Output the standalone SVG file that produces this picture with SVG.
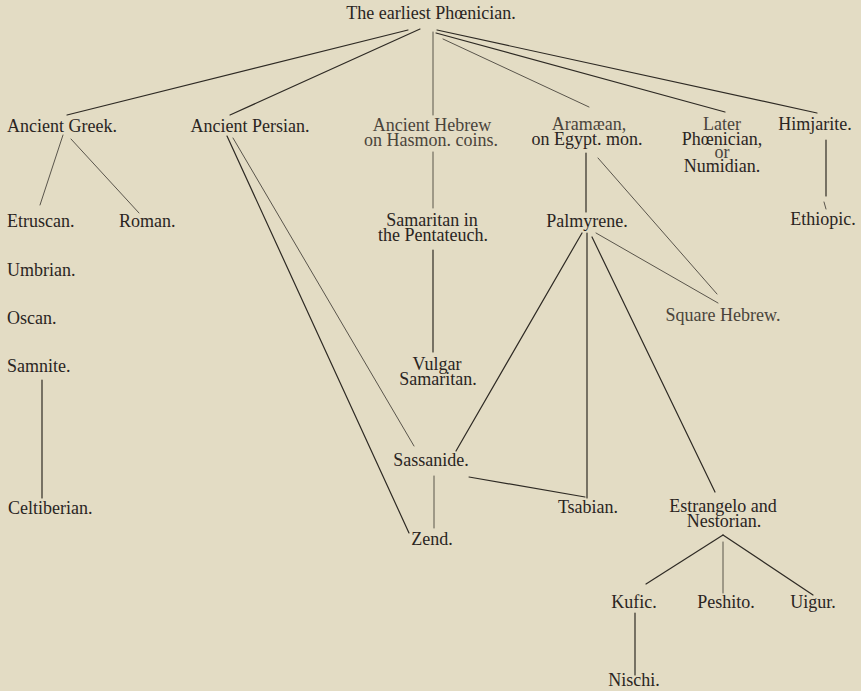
<svg xmlns="http://www.w3.org/2000/svg" width="861" height="691" viewBox="0 0 861 691">
<style>
text{font-family:"Liberation Serif","DejaVu Serif",serif;font-size:18px;fill:#2a251f}
.m{text-anchor:middle}
.l{fill:#4a443b}
#connectors line{stroke:#2e2a24;stroke-width:1.2;fill:none;stroke-linecap:round}
#connectors line.t{stroke-width:0.9;stroke:#4a453d}
</style>
<rect width="861" height="691" fill="#e3dcc4"/>
<g id="connectors">
<line x1="408" y1="30" x2="67" y2="115"/>
<line x1="420" y1="29" x2="230" y2="115"/>
<line x1="433" y1="32" x2="433" y2="115" class="t"/>
<line x1="443" y1="39" x2="589" y2="107" class="t"/>
<line x1="436" y1="33" x2="725" y2="112"/>
<line x1="437" y1="30" x2="817" y2="113"/>
<line x1="63" y1="135" x2="40" y2="205" class="t"/>
<line x1="71" y1="139" x2="139" y2="213" class="t"/>
<line x1="227" y1="136" x2="409" y2="533"/>
<line x1="233" y1="138" x2="414" y2="446" class="t"/>
<line x1="433" y1="152" x2="433" y2="208" class="t"/>
<line x1="433" y1="250" x2="433" y2="352"/>
<line x1="586" y1="153" x2="586" y2="212"/>
<line x1="598" y1="158" x2="717" y2="294" class="t"/>
<line x1="826" y1="140" x2="826" y2="196"/>
<line x1="824" y1="202" x2="826" y2="209" class="t"/>
<line x1="596" y1="233" x2="718" y2="303" class="t"/>
<line x1="582" y1="233" x2="456" y2="451"/>
<line x1="587" y1="233" x2="587" y2="498"/>
<line x1="592" y1="237" x2="715" y2="492"/>
<line x1="469" y1="477" x2="585" y2="497"/>
<line x1="434" y1="476" x2="434" y2="528" class="t"/>
<line x1="42" y1="380" x2="42" y2="498"/>
<line x1="723" y1="535" x2="646" y2="584"/>
<line x1="723" y1="535" x2="813" y2="595"/>
<line x1="723" y1="542" x2="723" y2="593" class="t"/>
<line x1="635" y1="613" x2="635" y2="675"/>
</g>
<g id="root"><text class="m" x="431" y="19">The earliest Phœnician.</text></g>
<g id="ancient-greek"><text x="7" y="132">Ancient Greek.</text></g>
<g id="ancient-persian"><text class="m" x="250" y="132">Ancient Persian.</text></g>
<g id="ancient-hebrew"><text class="m l" x="432" y="131">Ancient Hebrew</text><text class="m l" x="431" y="146">on Hasmon. coins.</text></g>
<g id="aramaean"><text class="m l" x="589" y="130">Aramæan,</text><text class="m" x="587" y="145">on Egypt. mon.</text></g>
<g id="later-phoenician"><text class="m l" x="722" y="130">Later</text><text class="m" x="722" y="145">Phœnician,</text><text class="m l" x="722" y="158">or</text><text class="m" x="722" y="172">Numidian.</text></g>
<g id="himjarite"><text class="m" x="815" y="130">Himjarite.</text></g>
<g id="etruscan"><text x="7" y="227">Etruscan.</text></g>
<g id="roman"><text x="119" y="227">Roman.</text></g>
<g id="umbrian"><text x="7" y="276">Umbrian.</text></g>
<g id="oscan"><text x="7" y="324">Oscan.</text></g>
<g id="samnite"><text x="7" y="372">Samnite.</text></g>
<g id="celtiberian"><text x="8" y="514">Celtiberian.</text></g>
<g id="samaritan-pentateuch"><text class="m" x="432" y="226">Samaritan in</text><text class="m" x="433" y="241">the Pentateuch.</text></g>
<g id="palmyrene"><text class="m" x="587" y="227">Palmyrene.</text></g>
<g id="ethiopic"><text class="m" x="823" y="225">Ethiopic.</text></g>
<g id="square-hebrew"><text class="m l" x="723" y="321">Square Hebrew.</text></g>
<g id="vulgar-samaritan"><text class="m" x="437" y="370">Vulgar</text><text class="m" x="438" y="385">Samaritan.</text></g>
<g id="sassanide"><text class="m" x="431" y="466">Sassanide.</text></g>
<g id="zend"><text class="m" x="432" y="545">Zend.</text></g>
<g id="tsabian"><text class="m" x="588" y="513">Tsabian.</text></g>
<g id="estrangelo"><text class="m" x="723" y="512">Estrangelo and</text><text class="m" x="724" y="527">Nestorian.</text></g>
<g id="kufic"><text class="m" x="634" y="608">Kufic.</text></g>
<g id="peshito"><text class="m" x="726" y="608">Peshito.</text></g>
<g id="uigur"><text class="m" x="813" y="608">Uigur.</text></g>
<g id="nischi"><text class="m" x="634" y="686">Nischi.</text></g>
</svg>
